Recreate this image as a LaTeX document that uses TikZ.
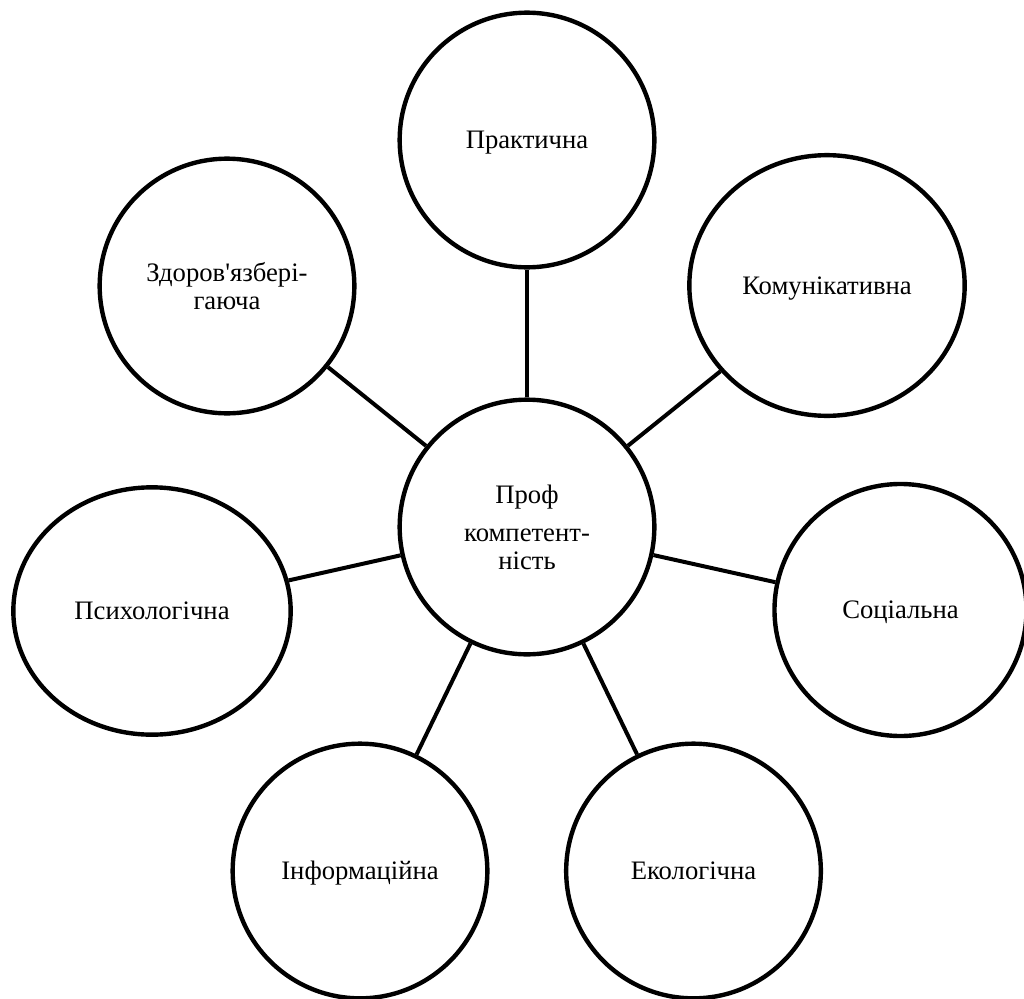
\documentclass[tikz,border=0pt]{standalone}
\usepackage{fontspec}
\setmainfont{Liberation Serif}[Ligatures=TeXOff]
\usetikzlibrary{shapes.geometric}
\begin{document}
\begin{tikzpicture}[x=0.75pt,y=-0.75pt,
  bubble/.style={ellipse, draw=black, line width=3.3pt, inner sep=0pt, align=center,
    font=\fontsize{20}{21}\selectfont},
  round/.style={bubble, minimum width=191pt, minimum height=191pt},
  oneline/.style={text height=12.8pt, text depth=0pt},
  link/.style={draw=black, line width=3pt}]
\useasboundingbox (0,0) rectangle (1024,999);
\node[round] (C) at (527,527) {Проф\\[7.5pt]компетент-\\ність};
\node[round, oneline] (P) at (527,140) {Практична};
\node[bubble, oneline, minimum width=206.5pt, minimum height=195.5pt] (K) at (827,285.5) {Комунікативна};
\node[round] (Z) at (227,286) {Здоров'язбері-\\гаюча};
\node[bubble, oneline, minimum width=208pt, minimum height=185.5pt] (Ps) at (152,611) {Психологічна};
\node[bubble, oneline, minimum width=189pt, minimum height=189pt] (S) at (900.5,610) {Соціальна};
\node[round, oneline] (I) at (360,871) {Інформаційна};
\node[round, oneline] (E) at (693.5,871) {Екологічна};
\draw[link] (C) -- (P);
\draw[link] (C) -- (K);
\draw[link] (C) -- (Z);
\draw[link] (C) -- (Ps);
\draw[link] (C) -- (S);
\draw[link] (C) -- (I);
\draw[link] (C) -- (E);
\end{tikzpicture}
\end{document}
